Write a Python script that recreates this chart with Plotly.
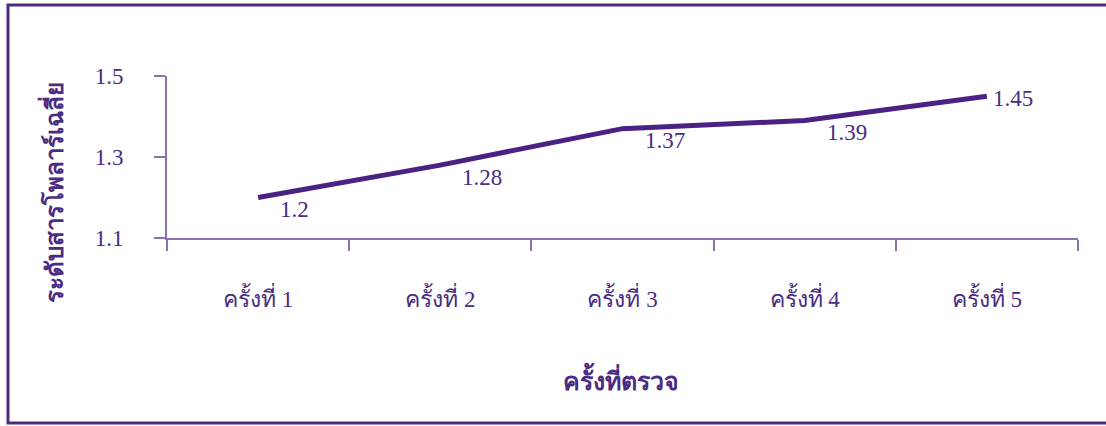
import plotly.graph_objects as go

categories = ["ครั้งที่ 1", "ครั้งที่ 2", "ครั้งที่ 3", "ครั้งที่ 4", "ครั้งที่ 5"]
values = [1.2, 1.28, 1.37, 1.39, 1.45]
labels = ["1.2", "1.28", "1.37", "1.39", "1.45"]
y_ticks = [1.1, 1.3, 1.5]
y_ticklabels = ["1.1", "1.3", "1.5"]
x_title = "ครั้งที่ตรวจ"
y_title = "ระดับสารโพลาร์เฉลี่ย"

W, H = 1106, 426
L, R, T, B = 167, 28, 76, 188
pw, ph = W - L - R, H - T - B

LINE = "#4b2283"
TEXT = "#4b2c82"
AXIS = "#8a70ad"
FONT = "Liberation Serif, Noto Serif, Noto Sans, serif"

fig = go.Figure()
fig.add_trace(go.Scatter(
    x=categories, y=values, mode="lines",
    line=dict(color=LINE, width=5),
    hoverinfo="skip", showlegend=False,
))

for i, (c, v, t) in enumerate(zip(categories, values, labels)):
    last = i == len(categories) - 1
    fig.add_annotation(
        x=c, y=v, text=t, showarrow=False,
        xanchor="left", yanchor="middle",
        xshift=4 if last else 20, yshift=-2 if last else -12,
        font=dict(family=FONT, size=23, color=TEXT),
    )

def px(x):
    return (x - L) / pw

def py(y):
    return 1 - (y - T) / ph

# outer frame
fig.add_shape(type="rect", xref="paper", yref="paper",
              x0=px(8), x1=px(1112), y0=py(423), y1=py(5),
              line=dict(color="#4b2c82", width=3), layer="below")

fig.add_annotation(
    xref="paper", yref="paper", x=px(52), y=py(193), text="<b>" + y_title + "</b>",
    showarrow=False, textangle=-90, xanchor="center", yanchor="middle",
    font=dict(family=FONT, size=24, color=TEXT),
)
fig.add_annotation(
    xref="paper", yref="paper", x=px(621), y=py(378), text="<b>" + x_title + "</b>",
    showarrow=False, xanchor="center", yanchor="middle",
    font=dict(family=FONT, size=25, color=TEXT),
)

fig.update_xaxes(
    range=[-0.5, len(categories) - 0.5],
    showline=True, linecolor=AXIS, linewidth=2,
    ticks="outside", ticklen=11, tickcolor=AXIS, tickwidth=2,
    tickson="boundaries", showgrid=False, zeroline=False,
    tickfont=dict(family=FONT, size=23, color=TEXT),
    ticklabelstandoff=39,
)
fig.update_yaxes(
    range=[1.1, 1.5], tickvals=y_ticks, ticktext=y_ticklabels,
    showline=True, linecolor=AXIS, linewidth=2,
    ticks="outside", ticklen=11, tickcolor=AXIS, tickwidth=2,
    showgrid=False, zeroline=False,
    tickfont=dict(family=FONT, size=23, color=TEXT),
    ticklabelstandoff=26,
)

fig.update_layout(
    width=W, height=H,
    margin=dict(l=L, r=R, t=T, b=B, autoexpand=False),
    paper_bgcolor="white", plot_bgcolor="white",
)

fig.write_html("out.html")
